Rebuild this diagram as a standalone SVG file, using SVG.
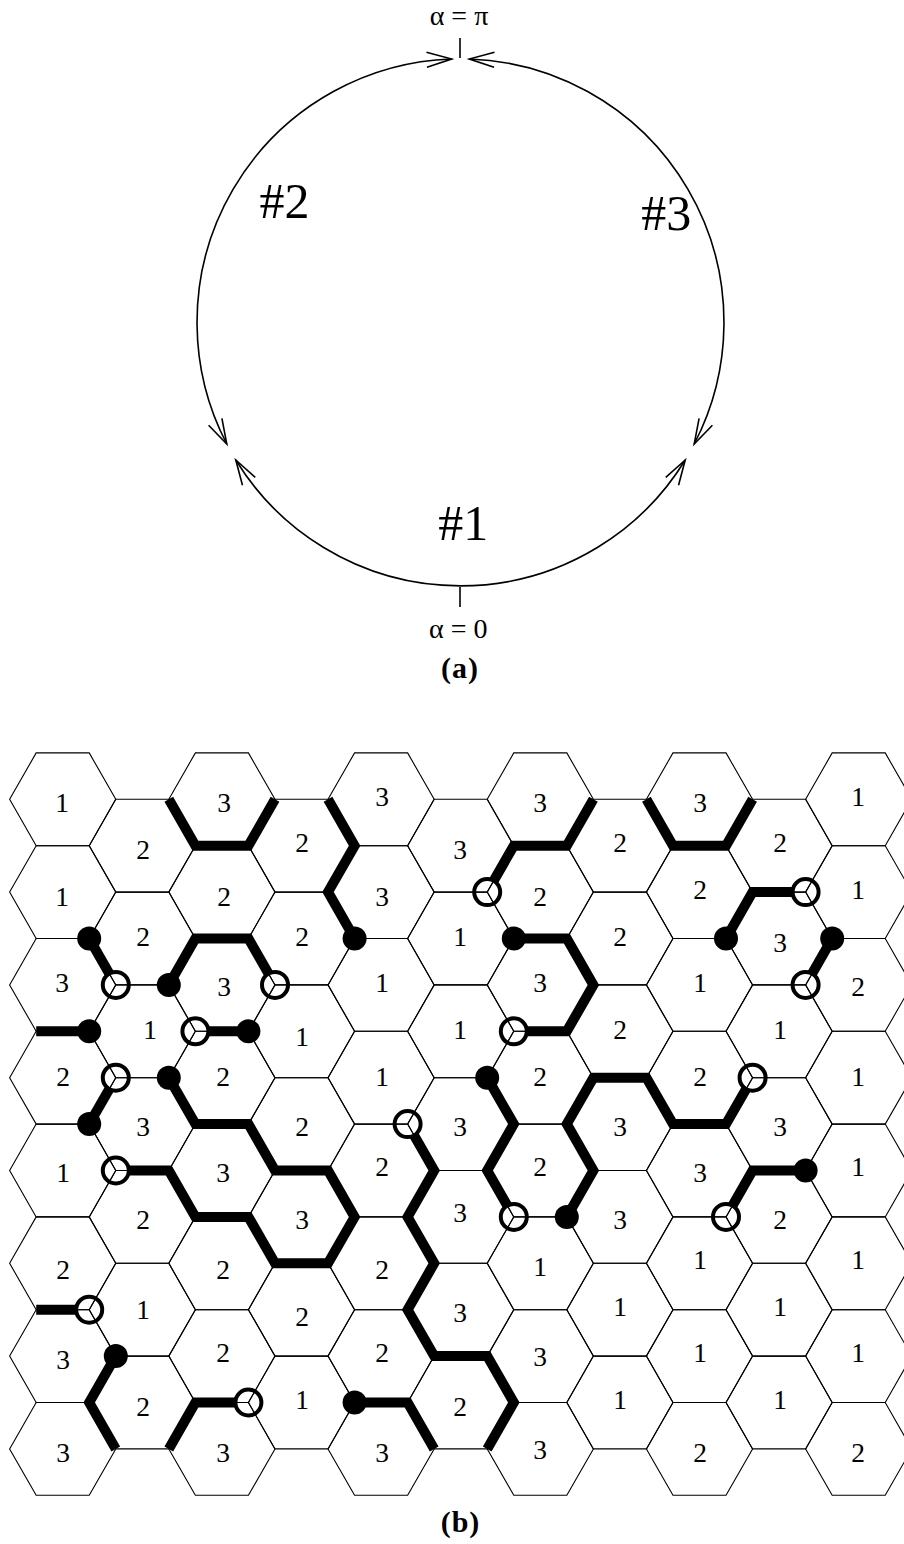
<svg xmlns="http://www.w3.org/2000/svg" xmlns:xlink="http://www.w3.org/1999/xlink" width="904" height="1544" viewBox="0 0 904 1544">
<style>
.lb{font-family:"Liberation Serif","Times New Roman",serif;font-size:27.5px;text-anchor:middle;fill:#000}
.big{font-family:"Liberation Serif","Times New Roman",serif;font-size:50px;text-anchor:middle;fill:#000}
.eq{font-family:"Liberation Serif","Times New Roman",serif;font-size:28px;text-anchor:middle;fill:#000}
.cap{font-family:"Liberation Serif","Times New Roman",serif;font-size:30px;font-weight:bold;text-anchor:middle;fill:#000;letter-spacing:1px}
.tk{fill:none;stroke:#000;stroke-width:10;stroke-linejoin:miter;stroke-linecap:butt}
.bd{fill:#000}
.oc{fill:#fff;stroke:#000;stroke-width:4}
.arc{fill:none;stroke:#000;stroke-width:1.6;marker-start:url(#ar);marker-end:url(#ar)}
.tick{stroke:#000;stroke-width:1.6}
</style>
<defs>
<polygon id="hx" points="-53.07,0 -26.53,-46.4 26.53,-46.4 53.07,0 26.53,46.4 -26.53,46.4" fill="none" stroke="#000" stroke-width="1.1"/>
<marker id="ar" markerUnits="userSpaceOnUse" markerWidth="30" markerHeight="20" refX="25" refY="7.5" orient="auto-start-reverse" overflow="visible">
<path d="M0,0 L25,7.5 L0,15" fill="none" stroke="#000" stroke-width="1.6"/>
</marker>
</defs>
<rect width="904" height="1544" fill="#fff"/>

<!-- (a) circle diagram -->
<g id="circle-connectors">
<path class="arc" d="M451.7,59 A263.5,263.5 0 0 0 226.8,444"/>
<path class="arc" d="M235.8,460 A263.5,263.5 0 0 0 685.2,460"/>
<path class="arc" d="M694.2,444 A263.5,263.5 0 0 0 469.3,59"/>
<line class="tick" x1="460" y1="38" x2="460" y2="58"/>
<line class="tick" x1="460" y1="587" x2="460" y2="607"/>
</g>
<g id="alpha-pi"><text class="eq" x="459" y="25">α = π</text></g>
<g id="alpha-0"><text class="eq" x="458.3" y="638">α = 0</text></g>
<g id="seg1"><text class="big" x="463.3" y="540">#1</text></g>
<g id="seg2"><text class="big" x="284.5" y="218">#2</text></g>
<g id="seg3"><text class="big" x="666.2" y="230">#3</text></g>
<g id="cap-a"><text class="cap" x="460" y="678">(a)</text></g>

<!-- (b) connectors -->
<g id="connectors">
<path class="tk" d="M168.8,799.3 L195.4,845.7 L248.4,845.7 L275,799.3"/>
<path class="tk" d="M328,799.3 L354.6,845.7 L328,892.1 L354.6,938.5"/>
<path class="tk" d="M89.2,938.5 L115.8,984.9"/>
<path class="tk" d="M168.8,984.9 L195.4,938.5 L248.4,938.5 L275,984.9"/>
<path class="tk" d="M487.2,892.1 L513.8,845.7 L566.8,845.7 L593.4,799.3"/>
<path class="tk" d="M646.4,799.3 L673,845.7 L726,845.7 L752.6,799.3"/>
<path class="tk" d="M726,938.5 L752.6,892.1 L805.6,892.1"/>
<path class="tk" d="M832.2,938.5 L805.6,984.9"/>
<path class="tk" d="M513.8,938.5 L566.8,938.5 L593.4,984.9 L566.8,1031.3 L513.8,1031.3"/>
<path class="tk" d="M36.2,1031.3 L89.2,1031.3"/>
<path class="tk" d="M195.4,1031.3 L248.4,1031.3"/>
<path class="tk" d="M115.8,1077.7 L89.2,1124.1"/>
<path class="tk" d="M168.8,1077.7 L195.4,1124.1 L248.4,1124.1 L275,1170.5 L328,1170.5 L354.6,1216.9 L328,1263.3 L275,1263.3 L248.4,1216.9 L195.4,1216.9 L168.8,1170.5 L115.8,1170.5"/>
<path class="tk" d="M407.6,1124.1 L434.2,1170.5 L407.6,1216.9 L434.2,1263.3 L407.6,1309.7 L434.2,1356.1 L487.2,1356.1 L513.8,1402.5 L487.2,1448.9"/>
<path class="tk" d="M487.2,1077.7 L513.8,1124.1 L487.2,1170.5 L513.8,1216.9"/>
<path class="tk" d="M566.8,1216.9 L593.4,1170.5 L566.8,1124.1 L593.4,1077.7 L646.4,1077.7 L673,1124.1 L726,1124.1 L752.6,1077.7"/>
<path class="tk" d="M726,1216.9 L752.6,1170.5 L805.6,1170.5"/>
<path class="tk" d="M36.2,1309.7 L89.2,1309.7"/>
<path class="tk" d="M115.8,1356.1 L89.2,1402.5 L115.8,1448.9"/>
<path class="tk" d="M168.8,1448.9 L195.4,1402.5 L248.4,1402.5"/>
<path class="tk" d="M354.6,1402.5 L407.6,1402.5 L434.2,1448.9"/>
<circle class="bd" cx="354.6" cy="938.5" r="12"/>
<circle class="bd" cx="89.2" cy="938.5" r="12"/>
<circle class="bd" cx="168.8" cy="984.9" r="12"/>
<circle class="bd" cx="726" cy="938.5" r="12"/>
<circle class="bd" cx="832.2" cy="938.5" r="12"/>
<circle class="bd" cx="513.8" cy="938.5" r="12"/>
<circle class="bd" cx="89.2" cy="1031.3" r="12"/>
<circle class="bd" cx="248.4" cy="1031.3" r="12"/>
<circle class="bd" cx="89.2" cy="1124.1" r="12"/>
<circle class="bd" cx="168.8" cy="1077.7" r="12"/>
<circle class="bd" cx="487.2" cy="1077.7" r="12"/>
<circle class="bd" cx="566.8" cy="1216.9" r="12"/>
<circle class="bd" cx="805.6" cy="1170.5" r="12"/>
<circle class="bd" cx="115.8" cy="1356.1" r="12"/>
<circle class="bd" cx="354.6" cy="1402.5" r="12"/>
<circle class="oc" cx="115.8" cy="984.9" r="13"/>
<circle class="oc" cx="275" cy="984.9" r="13"/>
<circle class="oc" cx="487.2" cy="892.1" r="13"/>
<circle class="oc" cx="805.6" cy="892.1" r="13"/>
<circle class="oc" cx="805.6" cy="984.9" r="13"/>
<circle class="oc" cx="513.8" cy="1031.3" r="13"/>
<circle class="oc" cx="195.4" cy="1031.3" r="13"/>
<circle class="oc" cx="115.8" cy="1077.7" r="13"/>
<circle class="oc" cx="115.8" cy="1170.5" r="13"/>
<circle class="oc" cx="407.6" cy="1124.1" r="13"/>
<circle class="oc" cx="513.8" cy="1216.9" r="13"/>
<circle class="oc" cx="752.6" cy="1077.7" r="13"/>
<circle class="oc" cx="726" cy="1216.9" r="13"/>
<circle class="oc" cx="89.2" cy="1309.7" r="13"/>
<circle class="oc" cx="248.4" cy="1402.5" r="13"/>
</g>

<!-- (b) hex nodes -->
<g id="c1r0"><use href="#hx" x="62.7" y="799.3"/><text class="lb" x="62" y="812">1</text></g>
<g id="c1r1"><use href="#hx" x="62.7" y="892.1"/><text class="lb" x="62" y="906">1</text></g>
<g id="c1r2"><use href="#hx" x="62.7" y="984.9"/><text class="lb" x="62" y="992">3</text></g>
<g id="c1r3"><use href="#hx" x="62.7" y="1077.7"/><text class="lb" x="63" y="1086">2</text></g>
<g id="c1r4"><use href="#hx" x="62.7" y="1170.5"/><text class="lb" x="63" y="1182">1</text></g>
<g id="c1r5"><use href="#hx" x="62.7" y="1263.3"/><text class="lb" x="63" y="1279">2</text></g>
<g id="c1r6"><use href="#hx" x="62.7" y="1356.1"/><text class="lb" x="63" y="1369">3</text></g>
<g id="c1r7"><use href="#hx" x="62.7" y="1448.9"/><text class="lb" x="63" y="1462">3</text></g>

<g id="c2r0"><use href="#hx" x="142.3" y="845.7"/><text class="lb" x="143" y="859">2</text></g>
<g id="c2r1"><use href="#hx" x="142.3" y="938.5"/><text class="lb" x="143" y="946">2</text></g>
<g id="c2r2"><use href="#hx" x="142.3" y="1031.3"/><text class="lb" x="150" y="1039">1</text></g>
<g id="c2r3"><use href="#hx" x="142.3" y="1124.1"/><text class="lb" x="143" y="1136">3</text></g>
<g id="c2r4"><use href="#hx" x="142.3" y="1216.9"/><text class="lb" x="143" y="1229">2</text></g>
<g id="c2r5"><use href="#hx" x="142.3" y="1309.7"/><text class="lb" x="143" y="1319">1</text></g>
<g id="c2r6"><use href="#hx" x="142.3" y="1402.5"/><text class="lb" x="143" y="1416">2</text></g>

<g id="c3r0"><use href="#hx" x="221.9" y="799.3"/><text class="lb" x="224" y="812">3</text></g>
<g id="c3r1"><use href="#hx" x="221.9" y="892.1"/><text class="lb" x="224" y="906">2</text></g>
<g id="c3r2"><use href="#hx" x="221.9" y="984.9"/><text class="lb" x="224" y="996">3</text></g>
<g id="c3r3"><use href="#hx" x="221.9" y="1077.7"/><text class="lb" x="223" y="1086">2</text></g>
<g id="c3r4"><use href="#hx" x="221.9" y="1170.5"/><text class="lb" x="223" y="1182">3</text></g>
<g id="c3r5"><use href="#hx" x="221.9" y="1263.3"/><text class="lb" x="223" y="1279">2</text></g>
<g id="c3r6"><use href="#hx" x="221.9" y="1356.1"/><text class="lb" x="223" y="1362">2</text></g>
<g id="c3r7"><use href="#hx" x="221.9" y="1448.9"/><text class="lb" x="223" y="1462">3</text></g>

<g id="c4r0"><use href="#hx" x="301.5" y="845.7"/><text class="lb" x="302" y="852">2</text></g>
<g id="c4r1"><use href="#hx" x="301.5" y="938.5"/><text class="lb" x="302" y="946">2</text></g>
<g id="c4r2"><use href="#hx" x="301.5" y="1031.3"/><text class="lb" x="302" y="1046">1</text></g>
<g id="c4r3"><use href="#hx" x="301.5" y="1124.1"/><text class="lb" x="302" y="1136">2</text></g>
<g id="c4r4"><use href="#hx" x="301.5" y="1216.9"/><text class="lb" x="302" y="1229">3</text></g>
<g id="c4r5"><use href="#hx" x="301.5" y="1309.7"/><text class="lb" x="302" y="1326">2</text></g>
<g id="c4r6"><use href="#hx" x="301.5" y="1402.5"/><text class="lb" x="302" y="1409">1</text></g>

<g id="c5r0"><use href="#hx" x="381.1" y="799.3"/><text class="lb" x="382" y="806">3</text></g>
<g id="c5r1"><use href="#hx" x="381.1" y="892.1"/><text class="lb" x="382" y="906">3</text></g>
<g id="c5r2"><use href="#hx" x="381.1" y="984.9"/><text class="lb" x="382" y="992">1</text></g>
<g id="c5r3"><use href="#hx" x="381.1" y="1077.7"/><text class="lb" x="382" y="1086">1</text></g>
<g id="c5r4"><use href="#hx" x="381.1" y="1170.5"/><text class="lb" x="382" y="1176">2</text></g>
<g id="c5r5"><use href="#hx" x="381.1" y="1263.3"/><text class="lb" x="382" y="1279">2</text></g>
<g id="c5r6"><use href="#hx" x="381.1" y="1356.1"/><text class="lb" x="382" y="1362">2</text></g>
<g id="c5r7"><use href="#hx" x="381.1" y="1448.9"/><text class="lb" x="382" y="1462">3</text></g>

<g id="c6r0"><use href="#hx" x="460.7" y="845.7"/><text class="lb" x="460" y="859">3</text></g>
<g id="c6r1"><use href="#hx" x="460.7" y="938.5"/><text class="lb" x="460" y="946">1</text></g>
<g id="c6r2"><use href="#hx" x="460.7" y="1031.3"/><text class="lb" x="460" y="1039">1</text></g>
<g id="c6r3"><use href="#hx" x="460.7" y="1124.1"/><text class="lb" x="460" y="1136">3</text></g>
<g id="c6r4"><use href="#hx" x="460.7" y="1216.9"/><text class="lb" x="460" y="1222">3</text></g>
<g id="c6r5"><use href="#hx" x="460.7" y="1309.7"/><text class="lb" x="460" y="1322">3</text></g>
<g id="c6r6"><use href="#hx" x="460.7" y="1402.5"/><text class="lb" x="460" y="1416">2</text></g>

<g id="c7r0"><use href="#hx" x="540.3" y="799.3"/><text class="lb" x="540" y="812">3</text></g>
<g id="c7r1"><use href="#hx" x="540.3" y="892.1"/><text class="lb" x="540" y="906">2</text></g>
<g id="c7r2"><use href="#hx" x="540.3" y="984.9"/><text class="lb" x="540" y="992">3</text></g>
<g id="c7r3"><use href="#hx" x="540.3" y="1077.7"/><text class="lb" x="540" y="1086">2</text></g>
<g id="c7r4"><use href="#hx" x="540.3" y="1170.5"/><text class="lb" x="540" y="1176">2</text></g>
<g id="c7r5"><use href="#hx" x="540.3" y="1263.3"/><text class="lb" x="540" y="1276">1</text></g>
<g id="c7r6"><use href="#hx" x="540.3" y="1356.1"/><text class="lb" x="540" y="1366">3</text></g>
<g id="c7r7"><use href="#hx" x="540.3" y="1448.9"/><text class="lb" x="540" y="1459">3</text></g>

<g id="c8r0"><use href="#hx" x="619.9" y="845.7"/><text class="lb" x="620" y="852">2</text></g>
<g id="c8r1"><use href="#hx" x="619.9" y="938.5"/><text class="lb" x="620" y="946">2</text></g>
<g id="c8r2"><use href="#hx" x="619.9" y="1031.3"/><text class="lb" x="620" y="1039">2</text></g>
<g id="c8r3"><use href="#hx" x="619.9" y="1124.1"/><text class="lb" x="620" y="1136">3</text></g>
<g id="c8r4"><use href="#hx" x="619.9" y="1216.9"/><text class="lb" x="620" y="1229">3</text></g>
<g id="c8r5"><use href="#hx" x="619.9" y="1309.7"/><text class="lb" x="620" y="1316">1</text></g>
<g id="c8r6"><use href="#hx" x="619.9" y="1402.5"/><text class="lb" x="620" y="1409">1</text></g>

<g id="c9r0"><use href="#hx" x="699.5" y="799.3"/><text class="lb" x="700" y="812">3</text></g>
<g id="c9r1"><use href="#hx" x="699.5" y="892.1"/><text class="lb" x="700" y="899">2</text></g>
<g id="c9r2"><use href="#hx" x="699.5" y="984.9"/><text class="lb" x="700" y="992">1</text></g>
<g id="c9r3"><use href="#hx" x="699.5" y="1077.7"/><text class="lb" x="700" y="1086">2</text></g>
<g id="c9r4"><use href="#hx" x="699.5" y="1170.5"/><text class="lb" x="700" y="1182">3</text></g>
<g id="c9r5"><use href="#hx" x="699.5" y="1263.3"/><text class="lb" x="700" y="1269">1</text></g>
<g id="c9r6"><use href="#hx" x="699.5" y="1356.1"/><text class="lb" x="700" y="1362">1</text></g>
<g id="c9r7"><use href="#hx" x="699.5" y="1448.9"/><text class="lb" x="700" y="1462">2</text></g>

<g id="c10r0"><use href="#hx" x="779.1" y="845.7"/><text class="lb" x="780" y="852">2</text></g>
<g id="c10r1"><use href="#hx" x="779.1" y="938.5"/><text class="lb" x="780" y="952">3</text></g>
<g id="c10r2"><use href="#hx" x="779.1" y="1031.3"/><text class="lb" x="780" y="1039">1</text></g>
<g id="c10r3"><use href="#hx" x="779.1" y="1124.1"/><text class="lb" x="780" y="1136">3</text></g>
<g id="c10r4"><use href="#hx" x="779.1" y="1216.9"/><text class="lb" x="780" y="1229">2</text></g>
<g id="c10r5"><use href="#hx" x="779.1" y="1309.7"/><text class="lb" x="780" y="1316">1</text></g>
<g id="c10r6"><use href="#hx" x="779.1" y="1402.5"/><text class="lb" x="780" y="1409">1</text></g>

<g id="c11r0"><use href="#hx" x="858.7" y="799.3"/><text class="lb" x="858" y="806">1</text></g>
<g id="c11r1"><use href="#hx" x="858.7" y="892.1"/><text class="lb" x="858" y="899">1</text></g>
<g id="c11r2"><use href="#hx" x="858.7" y="984.9"/><text class="lb" x="858" y="996">2</text></g>
<g id="c11r3"><use href="#hx" x="858.7" y="1077.7"/><text class="lb" x="858" y="1086">1</text></g>
<g id="c11r4"><use href="#hx" x="858.7" y="1170.5"/><text class="lb" x="858" y="1176">1</text></g>
<g id="c11r5"><use href="#hx" x="858.7" y="1263.3"/><text class="lb" x="858" y="1269">1</text></g>
<g id="c11r6"><use href="#hx" x="858.7" y="1356.1"/><text class="lb" x="858" y="1362">1</text></g>
<g id="c11r7"><use href="#hx" x="858.7" y="1448.9"/><text class="lb" x="858" y="1462">2</text></g>

<g id="cap-b"><text class="cap" x="460.5" y="1532">(b)</text></g>
</svg>
